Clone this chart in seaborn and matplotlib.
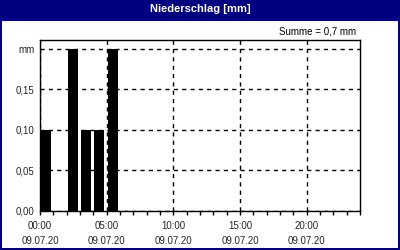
import matplotlib
matplotlib.use("Agg")
import matplotlib.pyplot as plt
import seaborn as sns
from matplotlib.patches import Rectangle
from matplotlib.ticker import MultipleLocator, FixedLocator

# hourly precipitation on 09.07.20 (hour start, mm)
hours = [0, 1, 2, 3, 4, 5]
precip = [0.10, 0.0, 0.20, 0.10, 0.10, 0.20]
tick_hours = [0, 5, 10, 15, 20]
tick_labels = ["00:00\n09.07.20", "05:00\n09.07.20", "10:00\n09.07.20",
               "15:00\n09.07.20", "20:00\n09.07.20"]
y_ticks = [0.0, 0.05, 0.10, 0.15, 0.20]
y_labels = ["0,00", "0,05", "0,10", "0,15", "mm"]
title = "Niederschlag [mm]"
total_text = "Summe = 0,7 mm"

navy = "#000080"

sns.set_style("white")
plt.rcParams['font.family'] = ['Liberation Sans', 'DejaVu Sans']

fig = plt.figure(figsize=(4, 2.5), dpi=100)

# window frame and title bar
fig.patches.append(Rectangle((0, 0), 1, 1, transform=fig.transFigure,
                             facecolor=navy, edgecolor="none", zorder=-5))
fig.patches.append(Rectangle((2 / 400, 2 / 250), 396 / 400, 227 / 250,
                             transform=fig.transFigure, facecolor="white",
                             edgecolor="none", zorder=-4))
fig.text(0.5, 1 - 9 / 250, title, color="white", fontsize=8, fontweight="bold",
         ha="center", va="center")
fig.text(356 / 400, 1 - 31 / 250, total_text, color="black", fontsize=7,
         ha="right", va="center")

ax = fig.add_axes([40 / 400, 39 / 250, 320 / 400, 171 / 250])
ax.set_zorder(2)
ax.set_facecolor("white")

centers = [h + 0.45 for h in hours]
sns.barplot(x=centers, y=precip, native_scale=True, width=0.75,
            color="black", saturation=1, linewidth=0, ax=ax, zorder=3)

ax.set_xlim(0, 24)
ax.set_ylim(0, 0.211)
ax.xaxis.set_major_locator(FixedLocator(tick_hours))
ax.set_xticklabels(tick_labels, linespacing=1.55)
ax.xaxis.set_minor_locator(MultipleLocator(1))
ax.set_yticks(y_ticks)
ax.set_yticklabels(y_labels)
ax.set_xlabel("")
ax.set_ylabel("")

ax.grid(True, which="major", color="black", linestyle=(0, (3, 3)),
        linewidth=1)
ax.set_axisbelow(True)
for s in ax.spines.values():
    s.set_visible(True)
    s.set_color("black")
    s.set_linewidth(1)

ax.tick_params(axis="x", which="both", direction="out", length=3, width=1,
               color="black", labelsize=7, pad=4.5, bottom=True)
ax.tick_params(axis="y", which="both", length=0, labelsize=7, pad=4)

fig.savefig("out.png", dpi=100)
